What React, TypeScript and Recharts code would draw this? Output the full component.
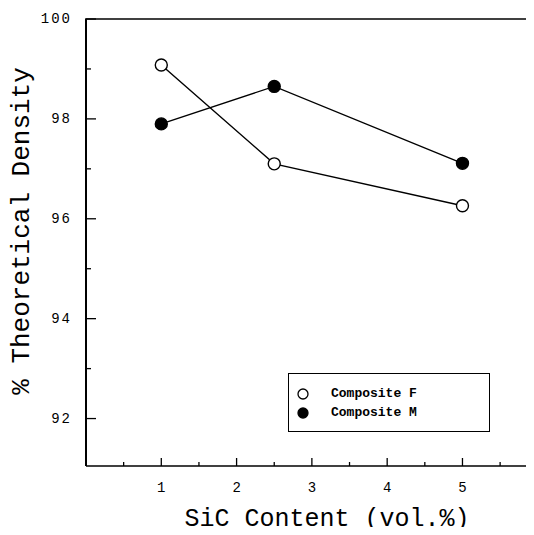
import {
  Label,
  Legend,
  Line,
  LineChart,
  ReferenceLine,
  XAxis,
  YAxis,
} from "recharts";

const sicContent = [1, 2.5, 5];
const compositeF = [99.08, 97.1, 96.26];
const compositeM = [97.9, 98.65, 97.11];

const xTicks = [0.5, 1, 1.5, 2, 2.5, 3, 3.5, 4, 4.5, 5, 5.5];
const xTickLabels = ["1", "2", "3", "4", "5"];
const yTicks = [92, 93, 94, 95, 96, 97, 98, 99, 100];
const yTickLabels = ["92", "94", "96", "98", "100"];

const seriesNames = ["Composite F", "Composite M"];

const data = sicContent.map((x, i) => ({
  x,
  f: compositeF[i],
  m: compositeM[i],
}));

const FONT = '"Liberation Mono", "Courier New", monospace';

function XTick({ x, y, payload }: any) {
  const label = String(payload.value);
  const major = xTickLabels.includes(label);
  return (
    <g>
      <line x1={x} x2={x} y1={y} y2={y - (major ? 8 : 4)} stroke="#000" strokeWidth={1.3} />
      {major && (
        <text
          x={x}
          y={y + 22}
          textAnchor="middle"
          dominantBaseline="central"
          fontFamily={FONT}
          fontSize={14}
          fill="#000"
        >
          {label}
        </text>
      )}
    </g>
  );
}

function YTick({ x, y, payload }: any) {
  const label = String(payload.value);
  const major = yTickLabels.includes(label);
  return (
    <g>
      <line x1={x - 1} x2={x + (major ? 10 : 5)} y1={y} y2={y} stroke="#000" strokeWidth={1.3} />
      {major && (
        <text
          x={x - 14}
          y={y}
          textAnchor="end"
          dominantBaseline="central"
          fontFamily={FONT}
          fontSize={14}
          letterSpacing={2}
          fill="#000"
        >
          {label}
        </text>
      )}
    </g>
  );
}

function LegendBox() {
  const items = [
    { name: seriesNames[0], fill: "#fff" },
    { name: seriesNames[1], fill: "#000" },
  ];
  return (
    <div
      style={{
        width: 202,
        height: 59,
        boxSizing: "border-box",
        border: "1.5px solid #000",
        background: "#fff",
        paddingTop: 10,
        paddingLeft: 7,
      }}
    >
      {items.map((it) => (
        <div
          key={it.name}
          style={{ display: "flex", alignItems: "center", height: 19 }}
        >
          <svg width={14} height={14} style={{ marginRight: 21 }}>
            <circle cx={7} cy={7} r={5} fill={it.fill} stroke="#000" strokeWidth={1.3} />
          </svg>
          <span
            style={{
              fontFamily: FONT,
              fontSize: 13,
              fontWeight: "bold",
              color: "#000",
            }}
          >
            {it.name}
          </span>
        </div>
      ))}
    </div>
  );
}

export default function App() {
  return (
    <div style={{ margin: -8, width: 534, height: 535, background: "#fff" }}>
      <LineChart
        width={534}
        height={535}
        data={data}
        margin={{ top: 19, right: 0, left: 0, bottom: 0 }}
      >
        <XAxis
          dataKey="x"
          type="number"
          domain={[0, 5.95]}
          allowDataOverflow
          ticks={xTicks}
          interval={0}
          tickSize={0}
          tickMargin={0}
          tickLine={false}
          tick={<XTick />}
          height={69}
          axisLine={{ stroke: "#000", strokeWidth: 1.6 }}
        >
          <Label
            content={() => (
              <text
                x={327}
                y={526}
                textAnchor="middle"
                fontFamily={FONT}
                fontSize={25}
                fill="#000"
              >
                SiC Content (vol.%)
              </text>
            )}
          />
        </XAxis>
        <YAxis
          type="number"
          domain={[91.05, 100]}
          allowDataOverflow
          ticks={yTicks}
          interval={0}
          width={86}
          tickSize={0}
          tickMargin={0}
          tickLine={false}
          tick={<YTick />}
          axisLine={{ stroke: "#000", strokeWidth: 2 }}
        >
          <Label
            content={() => (
              <text
                x={22}
                y={231}
                transform="rotate(-90 22 231)"
                textAnchor="middle"
                dominantBaseline="central"
                fontFamily={FONT}
                fontSize={26}
                fill="#000"
              >
                % Theoretical Density
              </text>
            )}
          />
        </YAxis>
        <ReferenceLine y={100} stroke="#000" strokeWidth={1.6} />
        <Legend
          layout="vertical"
          align="center"
          verticalAlign="middle"
          content={<LegendBox />}
          wrapperStyle={{ position: "absolute", left: 288, top: 373, width: 202, height: 59 }}
        />
        <Line
          dataKey="f"
          name={seriesNames[0]}
          stroke="#000"
          strokeWidth={1.4}
          dot={{ r: 6, fill: "#fff", stroke: "#000", strokeWidth: 1.4 }}
          isAnimationActive={false}
        />
        <Line
          dataKey="m"
          name={seriesNames[1]}
          stroke="#000"
          strokeWidth={1.4}
          dot={{ r: 6, fill: "#000", stroke: "#000", strokeWidth: 1.4 }}
          isAnimationActive={false}
        />
      </LineChart>
    </div>
  );
}
